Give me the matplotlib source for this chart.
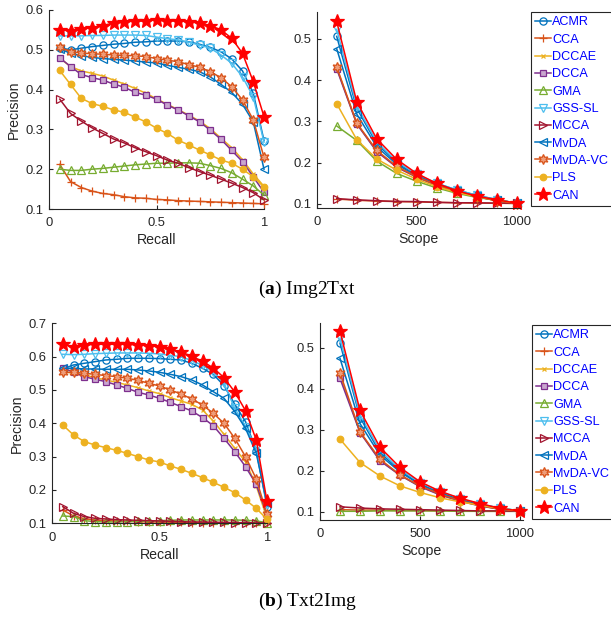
import matplotlib
matplotlib.use("Agg")
import matplotlib.pyplot as plt

# ---------------- data ----------------
methods = ["ACMR", "CCA", "DCCAE", "DCCA", "GMA", "GSS-SL", "MCCA",
           "MvDA", "MvDA-VC", "PLS", "CAN"]

recall = [0.05, 0.10, 0.15, 0.20, 0.25, 0.30, 0.35, 0.40, 0.45, 0.50,
          0.55, 0.60, 0.65, 0.70, 0.75, 0.80, 0.85, 0.90, 0.95, 1.00]
scope = [100, 200, 300, 400, 500, 600, 700, 800, 900, 1000]

# Img2Txt precision-recall
i2t_pr = {
    "ACMR":    [0.505, 0.500, 0.504, 0.508, 0.511, 0.514, 0.516, 0.519, 0.520, 0.522,
                0.522, 0.522, 0.520, 0.514, 0.506, 0.495, 0.477, 0.447, 0.391, 0.272],
    "CCA":     [0.212, 0.169, 0.154, 0.145, 0.139, 0.136, 0.131, 0.128, 0.127, 0.124,
                0.123, 0.121, 0.120, 0.119, 0.118, 0.117, 0.116, 0.115, 0.114, 0.113],
    "DCCAE":   [0.479, 0.458, 0.447, 0.441, 0.434, 0.424, 0.414, 0.403, 0.391, 0.377,
                0.363, 0.350, 0.336, 0.321, 0.302, 0.278, 0.254, 0.224, 0.188, 0.157],
    "DCCA":    [0.480, 0.458, 0.438, 0.430, 0.424, 0.414, 0.406, 0.393, 0.386, 0.376,
                0.361, 0.349, 0.334, 0.319, 0.298, 0.275, 0.247, 0.219, 0.181, 0.142],
    "GMA":     [0.200, 0.197, 0.197, 0.200, 0.202, 0.205, 0.208, 0.211, 0.213, 0.215,
                0.215, 0.216, 0.216, 0.215, 0.209, 0.202, 0.191, 0.175, 0.158, 0.135],
    "GSS-SL":  [0.535, 0.535, 0.535, 0.536, 0.536, 0.537, 0.537, 0.537, 0.536, 0.532,
                0.528, 0.525, 0.519, 0.512, 0.504, 0.487, 0.466, 0.432, 0.382, 0.268],
    "MCCA":    [0.376, 0.340, 0.321, 0.304, 0.290, 0.276, 0.266, 0.254, 0.244, 0.234,
                0.223, 0.215, 0.204, 0.194, 0.185, 0.175, 0.165, 0.154, 0.141, 0.123],
    "MvDA":    [0.503, 0.491, 0.485, 0.481, 0.478, 0.476, 0.474, 0.472, 0.469, 0.467,
                0.461, 0.456, 0.451, 0.445, 0.432, 0.413, 0.393, 0.363, 0.319, 0.200],
    "MvDA-VC": [0.507, 0.495, 0.492, 0.490, 0.489, 0.487, 0.486, 0.485, 0.483, 0.478,
                0.474, 0.470, 0.463, 0.456, 0.445, 0.430, 0.407, 0.374, 0.324, 0.230],
    "PLS":     [0.448, 0.413, 0.378, 0.365, 0.358, 0.349, 0.343, 0.331, 0.319, 0.303,
                0.290, 0.273, 0.261, 0.248, 0.236, 0.223, 0.215, 0.200, 0.181, 0.155],
    "CAN":     [0.550, 0.548, 0.552, 0.556, 0.561, 0.567, 0.571, 0.572, 0.573, 0.575,
                0.573, 0.573, 0.571, 0.567, 0.561, 0.550, 0.529, 0.491, 0.420, 0.332],
}

# Img2Txt precision-scope
i2t_scope = {
    "ACMR":    [0.506, 0.332, 0.246, 0.200, 0.170, 0.150, 0.134, 0.121, 0.111, 0.102],
    "CCA":     [0.112, 0.109, 0.107, 0.106, 0.105, 0.104, 0.103, 0.102, 0.102, 0.101],
    "DCCAE":   [0.430, 0.295, 0.228, 0.190, 0.165, 0.145, 0.130, 0.118, 0.108, 0.101],
    "DCCA":    [0.427, 0.294, 0.227, 0.189, 0.165, 0.145, 0.130, 0.118, 0.108, 0.101],
    "GMA":     [0.289, 0.254, 0.204, 0.174, 0.155, 0.139, 0.126, 0.116, 0.109, 0.102],
    "GSS-SL":  [0.523, 0.338, 0.251, 0.203, 0.172, 0.150, 0.134, 0.121, 0.110, 0.102],
    "MCCA":    [0.113, 0.110, 0.108, 0.106, 0.106, 0.104, 0.103, 0.103, 0.102, 0.102],
    "MvDA":    [0.476, 0.318, 0.239, 0.196, 0.168, 0.149, 0.132, 0.119, 0.110, 0.102],
    "MvDA-VC": [0.432, 0.296, 0.230, 0.191, 0.166, 0.146, 0.131, 0.118, 0.108, 0.101],
    "PLS":     [0.343, 0.256, 0.209, 0.182, 0.160, 0.142, 0.128, 0.118, 0.110, 0.102],
    "CAN":     [0.542, 0.348, 0.258, 0.208, 0.174, 0.150, 0.132, 0.119, 0.110, 0.102],
}

# Txt2Img precision-recall
t2i_pr = {
    "ACMR":    [0.563, 0.575, 0.580, 0.585, 0.590, 0.592, 0.595, 0.595, 0.595, 0.594,
                0.592, 0.590, 0.580, 0.565, 0.547, 0.513, 0.457, 0.405, 0.318, 0.150],
    "CCA":     [0.140, 0.122, 0.114, 0.110, 0.108, 0.107, 0.106, 0.105, 0.104, 0.104,
                0.103, 0.103, 0.102, 0.102, 0.102, 0.101, 0.101, 0.101, 0.100, 0.100],
    "DCCAE":   [0.555, 0.550, 0.545, 0.537, 0.530, 0.523, 0.515, 0.507, 0.497, 0.489,
                0.477, 0.467, 0.457, 0.440, 0.407, 0.367, 0.325, 0.285, 0.212, 0.115],
    "DCCA":    [0.567, 0.553, 0.540, 0.532, 0.525, 0.515, 0.505, 0.493, 0.485, 0.475,
                0.463, 0.450, 0.437, 0.417, 0.393, 0.355, 0.315, 0.270, 0.217, 0.125],
    "GMA":     [0.122, 0.120, 0.108, 0.105, 0.104, 0.104, 0.105, 0.106, 0.107, 0.108,
                0.109, 0.110, 0.110, 0.110, 0.110, 0.110, 0.110, 0.109, 0.107, 0.102],
    "GSS-SL":  [0.607, 0.606, 0.607, 0.609, 0.610, 0.611, 0.611, 0.611, 0.610, 0.608,
                0.604, 0.600, 0.588, 0.574, 0.555, 0.520, 0.445, 0.390, 0.325, 0.155],
    "MCCA":    [0.150, 0.130, 0.120, 0.115, 0.113, 0.111, 0.110, 0.109, 0.108, 0.107,
                0.106, 0.105, 0.104, 0.104, 0.103, 0.103, 0.102, 0.102, 0.101, 0.101],
    "MvDA":    [0.565, 0.565, 0.563, 0.563, 0.562, 0.562, 0.562, 0.560, 0.557, 0.553,
                0.547, 0.540, 0.530, 0.515, 0.495, 0.475, 0.435, 0.385, 0.310, 0.160],
    "MvDA-VC": [0.553, 0.553, 0.550, 0.547, 0.543, 0.540, 0.535, 0.529, 0.520, 0.512,
                0.500, 0.488, 0.473, 0.455, 0.430, 0.400, 0.355, 0.300, 0.233, 0.127],
    "PLS":     [0.395, 0.365, 0.345, 0.335, 0.327, 0.319, 0.310, 0.300, 0.290, 0.284,
                0.272, 0.262, 0.250, 0.237, 0.223, 0.208, 0.192, 0.170, 0.145, 0.112],
    "CAN":     [0.637, 0.630, 0.635, 0.637, 0.637, 0.637, 0.637, 0.635, 0.633, 0.630,
                0.622, 0.614, 0.601, 0.586, 0.566, 0.537, 0.494, 0.438, 0.350, 0.166],
}

# Txt2Img precision-scope
t2i_scope = {
    "ACMR":    [0.511, 0.330, 0.244, 0.200, 0.168, 0.146, 0.130, 0.118, 0.109, 0.102],
    "CCA":     [0.105, 0.104, 0.104, 0.103, 0.103, 0.102, 0.102, 0.101, 0.101, 0.101],
    "DCCAE":   [0.432, 0.294, 0.226, 0.189, 0.162, 0.142, 0.126, 0.115, 0.106, 0.101],
    "DCCA":    [0.425, 0.293, 0.224, 0.189, 0.161, 0.141, 0.126, 0.114, 0.106, 0.101],
    "GMA":     [0.101, 0.101, 0.102, 0.102, 0.102, 0.102, 0.101, 0.101, 0.101, 0.101],
    "GSS-SL":  [0.523, 0.336, 0.250, 0.203, 0.171, 0.149, 0.132, 0.119, 0.109, 0.102],
    "MCCA":    [0.112, 0.109, 0.107, 0.106, 0.105, 0.104, 0.103, 0.102, 0.102, 0.101],
    "MvDA":    [0.474, 0.315, 0.238, 0.197, 0.166, 0.146, 0.129, 0.117, 0.107, 0.101],
    "MvDA-VC": [0.439, 0.295, 0.228, 0.190, 0.163, 0.143, 0.127, 0.115, 0.106, 0.101],
    "PLS":     [0.277, 0.220, 0.187, 0.163, 0.147, 0.134, 0.124, 0.116, 0.108, 0.102],
    "CAN":     [0.540, 0.347, 0.257, 0.208, 0.173, 0.150, 0.133, 0.120, 0.108, 0.102],
}

captions = [("a", "Img2Txt"), ("b", "Txt2Img")]

# ---------------- style ----------------
BLUE, ORANGE, YELLOW = "#0072BD", "#D95319", "#EDB120"
PURPLE, GREEN, CYAN, DRED = "#7E2F8E", "#77AC30", "#4DBEEE", "#A2142F"
HEXAGRAM = (6, 1, 0)

styles = {
    "ACMR":    dict(color=BLUE, marker="o", ms=5.2, mfc="none"),
    "CCA":     dict(color=ORANGE, marker="+", ms=6, mfc="none"),
    "DCCAE":   dict(color=YELLOW, marker="x", ms=3.5, mfc="none"),
    "DCCA":    dict(color=PURPLE, marker="s", ms=4.7, mfc="#C9A6CF"),
    "GMA":     dict(color=GREEN, marker="^", ms=5.7, mfc="none"),
    "GSS-SL":  dict(color=CYAN, marker="v", ms=5.7, mfc="none"),
    "MCCA":    dict(color=DRED, marker=">", ms=5.7, mfc="none"),
    "MvDA":    dict(color=BLUE, marker="<", ms=5.7, mfc="none"),
    "MvDA-VC": dict(color=ORANGE, marker=HEXAGRAM, ms=7.2, mfc="#EE9C78"),
    "PLS":     dict(color=YELLOW, marker="o", ms=4.7, mfc=YELLOW),
    "CAN":     dict(color="#FF0000", marker="*", ms=10, mfc="#FF0000"),
}

plt.rcParams["font.family"] = ["Liberation Sans", "DejaVu Sans"]
plt.rcParams["mathtext.fontset"] = "custom"
plt.rcParams["mathtext.rm"] = "Liberation Serif"
plt.rcParams["mathtext.bf"] = "Liberation Serif:bold"

W, H = 611, 619
fig = plt.figure(figsize=(W / 100, H / 100), dpi=100)
INK = "#262626"


def axes_px(left, top, right, bottom):
    return fig.add_axes([left / W, 1 - bottom / H, (right - left) / W, (bottom - top) / H])


def style_axes(ax):
    for s in ("top", "right"):
        ax.spines[s].set_visible(False)
    for s in ("left", "bottom"):
        ax.spines[s].set_color(INK)
        ax.spines[s].set_linewidth(0.8)
    ax.tick_params(direction="in", length=3, width=0.8, color=INK,
                   labelcolor=INK, labelsize=9.4)
    ax.tick_params(axis="x", pad=6)
    ax.tick_params(axis="y", pad=4)
    ax.set_facecolor("none")


def draw(ax, x, data):
    handles = []
    for m in methods:
        st = styles[m]
        h, = ax.plot(x, data[m], color=st["color"], marker=st["marker"],
                     markersize=st["ms"], markerfacecolor=st["mfc"],
                     markeredgecolor=st["color"], markeredgewidth=0.9,
                     linewidth=1.1, clip_on=False, label=m)
        handles.append(h)
    return handles


layout = [
    # (pr axes px, scope axes px, pr ylim, scope ylim, legend anchor, caption y)
    ((49, 10, 264, 209), (316.7, 12, 519.7, 208), (0.1, 0.6), (0.0903, 0.565),
     (530.7, 12), 289),
    ((52, 323.3, 267, 523.3), (320, 323.3, 523, 520), (0.1, 0.7), (0.0798, 0.5595),
     (531.5, 325), 601),
]
datasets = [(i2t_pr, i2t_scope), (t2i_pr, t2i_scope)]

for (pr_box, sc_box, pr_ylim, sc_ylim, leg_xy, cap_y), (pr, sc), (tag, name) in zip(
        layout, datasets, captions):
    ax1 = axes_px(*pr_box)
    style_axes(ax1)
    draw(ax1, recall, pr)
    ax1.set_xlim(0, 1)
    ax1.set_ylim(*pr_ylim)
    ax1.set_xticks([0, 0.5, 1])
    ax1.set_xticklabels(["0", "0.5", "1"])
    ax1.set_yticks([round(0.1 * k, 1) for k in range(1, int(round(pr_ylim[1] * 10)) + 1)])
    ax1.set_xlabel("Recall", fontsize=10.2, color=INK, labelpad=3)
    ax1.set_ylabel("Precision", fontsize=10.2, color=INK, labelpad=3)

    ax2 = axes_px(*sc_box)
    style_axes(ax2)
    handles = draw(ax2, scope, sc)
    ax2.set_xlim(0, 1015)
    ax2.set_ylim(*sc_ylim)
    ax2.set_xticks([0, 500, 1000])
    ax2.set_yticks([0.1, 0.2, 0.3, 0.4, 0.5])
    ax2.set_xlabel("Scope", fontsize=10.2, color=INK, labelpad=3)

    leg = fig.legend(handles=handles, loc="upper left",
                     bbox_to_anchor=(leg_xy[0] / W, 1 - leg_xy[1] / H),
                     bbox_transform=fig.transFigure, borderaxespad=0,
                     fontsize=9.1, frameon=True, fancybox=False, framealpha=1,
                     handlelength=1.25, handletextpad=0.12, labelspacing=0.42,
                     borderpad=0.35, labelcolor="#0000FF")
    leg.get_frame().set_edgecolor(INK)
    leg.get_frame().set_linewidth(0.8)

    fig.text(258 / W, 1 - cap_y / H, r"($\mathbf{%s}$) %s" % (tag, name),
             fontsize=14, family="Liberation Serif", color="black",
             ha="left", va="center")

fig.savefig("out.png", dpi=100, facecolor="white")
